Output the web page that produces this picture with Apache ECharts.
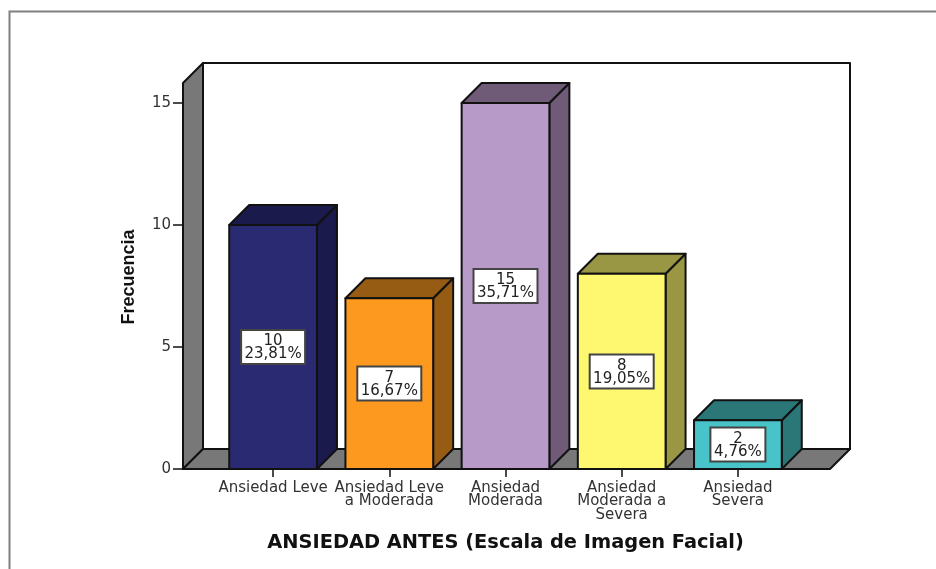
<!DOCTYPE html>
<html>
<head>
<meta charset="utf-8">
<style>html,body{margin:0;padding:0;background:#fff}#c{width:936px;height:569px}</style>
<script src="https://cdn.jsdelivr.net/npm/echarts@6/dist/echarts.min.js"></script>
</head>
<body>
<div id="c"></div>
<script>
const categories = ['Ansiedad Leve', 'Ansiedad Leve\na Moderada', 'Ansiedad\nModerada', 'Ansiedad\nModerada a\nSevera', 'Ansiedad\nSevera'];
const frequencies = [10, 7, 15, 8, 2];
const percentLabels = ['23,81%', '16,67%', '35,71%', '19,05%', '4,76%'];
const frontColors = ['#2a2a72', '#fd991e', '#b89ac8', '#fdf870', '#48c3c8'];
const sideColors = ['#1a1a4c', '#965c14', '#6f5b78', '#999743', '#2b7778'];
const yTicks = { min: 0, max: 15, interval: 5 };
const xAxisTitle = 'ANSIEDAD ANTES (Escala de Imagen Facial)';
const yAxisTitle = 'Frecuencia';

const depth = 20, wallLeft = 32, wallRight = 34, barRatio = 0.755;
const lineColor = '#111', wallColor = '#787878';
const edge = { stroke: lineColor, lineWidth: 2, lineJoin: 'round' };
const poly = (points, fill) => ({ type: 'polygon', shape: { points }, style: Object.assign({ fill }, edge) });

function renderFrame(params) {
  const g = params.coordSys;
  const l = g.x - wallLeft, r = g.x + g.width + wallRight, b = g.y + g.height, t = g.y - depth;
  return {
    type: 'group',
    children: [
      { type: 'rect', shape: { x: l + depth, y: t - depth, width: r - l, height: b - t }, style: Object.assign({ fill: '#fff' }, edge) },
      poly([[l, t], [l + depth, t - depth], [l + depth, b - depth], [l, b]], wallColor),
      poly([[l, b], [l + depth, b - depth], [r + depth, b - depth], [r, b]], wallColor)
    ]
  };
}

function renderBar(params, api) {
  const i = api.value(0), v = api.value(1);
  const top = api.coord([i, v]), base = api.coord([i, 0]);
  const w = api.size([1, 0])[0] * barRatio;
  const x0 = top[0] - w / 2, x1 = top[0] + w / 2, yT = top[1], yB = base[1];
  const pct = percentLabels[i];
  const boxW = pct.length * 9 + 10, boxH = 34, cy = (yT + yB) / 2;
  return {
    type: 'group',
    children: [
      poly([[x1, yT], [x1 + depth, yT - depth], [x1 + depth, yB - depth], [x1, yB]], sideColors[i]),
      poly([[x0, yT], [x0 + depth, yT - depth], [x1 + depth, yT - depth], [x1, yT]], sideColors[i]),
      poly([[x0, yT], [x1, yT], [x1, yB], [x0, yB]], frontColors[i]),
      { type: 'rect', shape: { x: top[0] - boxW / 2, y: cy - boxH / 2, width: boxW, height: boxH }, style: { fill: '#fff', stroke: '#444', lineWidth: 2 } },
      { type: 'text', style: { text: v + '\n' + pct, x: top[0], y: cy + 1, align: 'center', verticalAlign: 'middle', fill: '#222', fontFamily: 'DejaVu Sans', fontSize: 15, lineHeight: 13 } }
    ]
  };
}

const chart = echarts.init(document.getElementById('c'), null, { renderer: 'canvas' });
chart.setOption({
  animation: false,
  backgroundColor: '#fff',
  graphic: [
    { type: 'polyline', shape: { points: [[9.5, 569], [9.5, 11.5], [936, 11.5]] }, style: { stroke: '#808080', lineWidth: 2, fill: null }, silent: true }
  ],
  grid: { left: 215, width: 581, top: 103, height: 366 },
  xAxis: {
    type: 'category',
    data: categories,
    name: xAxisTitle,
    nameLocation: 'middle',
    nameGap: 64,
    nameTextStyle: { fontFamily: 'DejaVu Sans', fontWeight: 'bold', fontSize: 19.4, color: '#111' },
    axisLine: { show: false },
    axisTick: { show: true, alignWithLabel: true, length: 8, lineStyle: { color: lineColor, width: 1.5 } },
    axisLabel: { interval: 0, margin: 12, fontFamily: 'DejaVu Sans', fontSize: 15, lineHeight: 13.5, color: '#333' },
    z: 5
  },
  yAxis: {
    type: 'value',
    min: yTicks.min,
    max: yTicks.max,
    interval: yTicks.interval,
    offset: wallLeft,
    name: yAxisTitle,
    nameLocation: 'middle',
    nameGap: 45,
    nameTextStyle: { fontFamily: 'Liberation Sans', fontWeight: 'bold', fontSize: 18, color: '#111', padding: [0, 0, 0, 18] },
    axisLine: { show: false },
    axisTick: { show: true, length: 10, lineStyle: { color: lineColor, width: 1.5 } },
    axisLabel: { margin: 12, fontFamily: 'DejaVu Sans', fontSize: 15, color: '#333' },
    splitLine: { show: false }
  },
  series: [
    { type: 'custom', silent: true, clip: false, z: 1, renderItem: renderFrame, data: [0], encode: { x: -1, y: -1 } },
    { type: 'custom', silent: true, clip: false, z: 2, renderItem: renderBar, data: frequencies.map((v, i) => [i, v]), encode: { x: 0, y: 1 } }
  ]
});
</script>
</body>
</html>
